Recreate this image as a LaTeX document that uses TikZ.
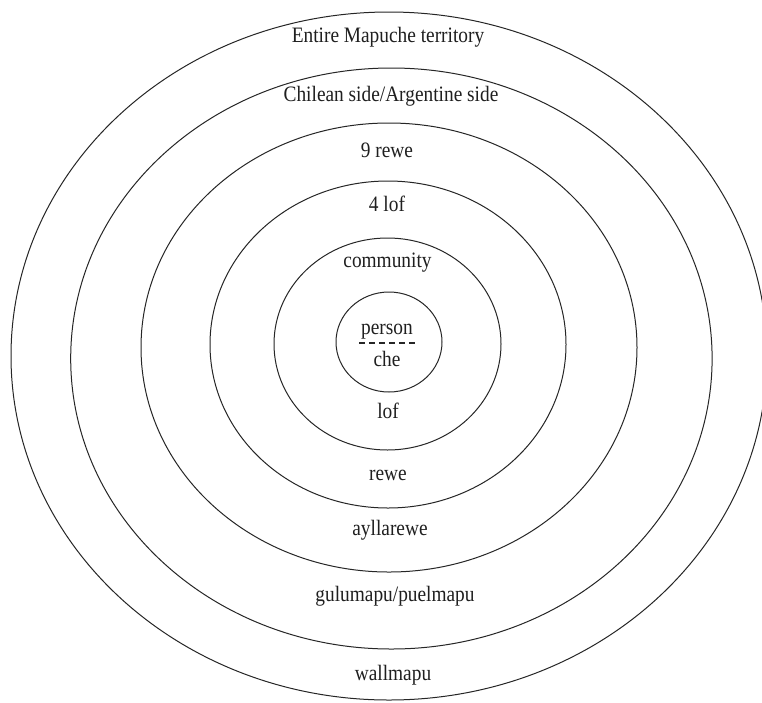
\documentclass[tikz,border=0pt]{standalone}
\usepackage{fontspec}
\setmainfont[FakeStretch=0.88]{Liberation Serif}
\begin{document}
\begin{tikzpicture}[x=1pt,y=-1pt,
  ring/.style={draw=black!85,line width=1pt},
  lbl/.style={anchor=base,inner sep=0pt,text=black!88,font=\fontsize{22}{25}\selectfont}]
\useasboundingbox (0,0) rectangle (762,702);
\clip (0,0) rectangle (762,702);
\fill[white] (0,0) rectangle (762,702);
% rings
\draw[ring] (389,356) ellipse [x radius=378, y radius=344];
\draw[ring] (391.4,358.5) ellipse [x radius=320.7, y radius=290.5];
\draw[ring] (389,347.5) ellipse [x radius=248, y radius=224.5];
\draw[ring] (388,344.5) ellipse [x radius=178, y radius=163.5];
\draw[ring] (387.5,344) ellipse [x radius=113.5, y radius=106];
\draw[ring] (389,342) ellipse [x radius=53, y radius=50];
% labels
\node[lbl] (t1) at (388,42) {Entire Mapuche territory};
\node[lbl] (t2) at (391,101) {Chilean side/Argentine side};
\node[lbl] (t3) at (387,157) {9 rewe};
\node[lbl] (t4) at (387,211) {4 lof};
\node[lbl] (t5) at (387.5,267) {community};
\node[lbl] (t6) at (387,334) {person};
\node[lbl] (t7) at (387,366.5) {che};
\node[lbl] (t8) at (388,418) {lof};
\node[lbl] (t9) at (388,480.5) {rewe};
\node[lbl] (t10) at (390,535) {ayllarewe};
\node[lbl] (t11) at (395,601.5) {gulumapu/puelmapu};
\node[lbl] (t12) at (393,680) {wallmapu};
% dashed separator
\coordinate (dl) at (359,343);
\coordinate (dr) at (417,343);
\draw[black!85,line width=1.1pt,dash pattern=on 6pt off 4pt] (dl) -- (dr);
\end{tikzpicture}
\end{document}
